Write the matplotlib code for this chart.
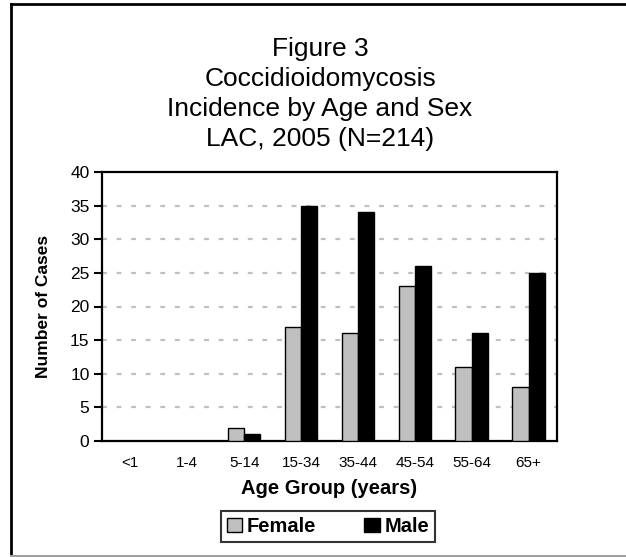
import numpy as np
import matplotlib
matplotlib.use("Agg")
import matplotlib.pyplot as plt
from matplotlib.lines import Line2D

# data
age_groups = ['<1', '1-4', '5-14', '15-34', '35-44', '45-54', '55-64', '65+']
female = [0, 0, 2, 17, 16, 23, 11, 8]
male = [0, 0, 1, 35, 34, 26, 16, 25]
y_ticks = [0, 5, 10, 15, 20, 25, 30, 35, 40]
title_lines = ['Figure 3', 'Coccidioidomycosis', 'Incidence by Age and Sex', 'LAC, 2005 (N=214)']

plt.rcParams['font.family'] = ['Liberation Sans', 'DejaVu Sans']
plt.rcParams['lines.scale_dashes'] = False

W, H = 626, 557
fig = plt.figure(figsize=(W / 100, H / 100), dpi=100)
ax = fig.add_axes([102 / W, 1 - 441 / H, (557 - 102) / W, (441 - 172) / H])

x = np.arange(len(age_groups))
w = 0.286
ax.bar(x - w / 2, female, w, color='#c0c0c0', edgecolor='black', linewidth=1.0, label='Female', zorder=3)
ax.bar(x + w / 2, male, w, color='black', edgecolor='black', linewidth=1.0, label='Male', zorder=3)

ax.set_xlim(-0.5, len(age_groups) - 0.5)
ax.set_ylim(0, 40)
ax.set_yticks(y_ticks)
ax.set_xticks(x)
ax.set_xticklabels(age_groups, fontsize=11)
ax.tick_params(axis='x', length=0, pad=11)
ax.tick_params(axis='y', length=6, width=1.5, labelsize=12.5, pad=3)

for yv in y_ticks[1:-1]:
    ax.axhline(yv, color='#c0c0c0', linewidth=1.6, linestyle=(0, (3.5, 7)), zorder=1)

for s in ax.spines.values():
    s.set_linewidth(1.6)
    s.set_color('black')

ax.set_xlabel('Age Group (years)', fontsize=14.5, fontweight='bold', labelpad=6)
ax.set_ylabel('Number of Cases', fontsize=12.5, fontweight='bold', labelpad=14)

# title, one line at a time
for i, line in enumerate(title_lines):
    fig.text(320 / W, 1 - (49 + 30 * i) / H, line, fontsize=19, ha='center', va='center')

leg = fig.legend(loc='center', bbox_to_anchor=(328 / W, 1 - 526.5 / H), ncol=2,
                 prop={'size': 14.5, 'weight': 'bold'}, frameon=True, fancybox=False,
                 handlelength=0.75, handleheight=0.75, handletextpad=0.25,
                 columnspacing=2.4, borderpad=0.3, borderaxespad=0)
leg.get_frame().set_edgecolor('black')
leg.get_frame().set_linewidth(1.5)

# outer frame of the figure
fig.add_artist(Line2D([11 / W, 11 / W], [1 - 4 / H, 1 - 556 / H], color='black', linewidth=2, transform=fig.transFigure))
fig.add_artist(Line2D([11 / W, 1], [1 - 4 / H, 1 - 4 / H], color='black', linewidth=2, transform=fig.transFigure))
fig.add_artist(Line2D([11 / W, 1], [1 - 556 / H, 1 - 556 / H], color='#a0a0a0', linewidth=1.5, transform=fig.transFigure))

fig.savefig('out.png', dpi=100)
